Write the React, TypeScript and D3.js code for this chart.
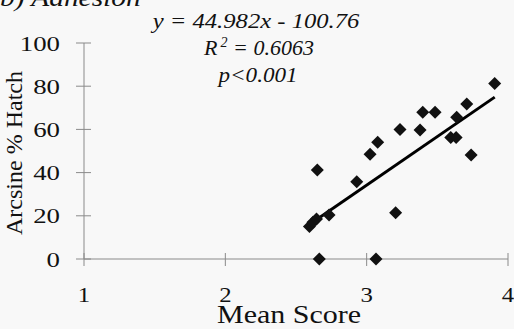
import React from "react";
import * as d3 from "d3";

const WIDTH = 514;
const HEIGHT = 329;

// Mean score (x) and arcsine-transformed % hatch (y)
const meanScore = [
  2.595, 2.62, 2.645, 2.651, 2.665, 2.734, 2.93, 3.024, 3.066, 3.078, 3.205,
  3.236, 3.378, 3.397, 3.484, 3.595, 3.633, 3.637, 3.708, 3.739, 3.906,
];
const arcsineHatch = [
  15.0, 17.0, 18.5, 41.2, 0, 20.4, 35.8, 48.5, 0, 54.0, 21.4, 60.0, 59.7,
  67.9, 67.9, 56.2, 56.2, 65.6, 71.8, 48.1, 81.3,
];

const xTicks = [1, 2, 3, 4];
const yTicks = [0, 20, 40, 60, 80, 100];

const slope = 44.982;
const intercept = -100.76;
const equationText = "y = 44.982x - 100.76";
const r2Value = "0.6063";
const pText = "p<0.001";

const serif = "'Liberation Serif', 'Times New Roman', serif";

// Text drawn with a horizontal stretch around its anchor point
function Wide({
  x,
  y,
  sx,
  anchor = "middle",
  size,
  italic = false,
  children,
}: {
  x: number;
  y: number;
  sx: number;
  anchor?: string;
  size: number;
  italic?: boolean;
  children: React.ReactNode;
}) {
  return (
    <text
      transform={`translate(${x},${y}) scale(${sx},1)`}
      textAnchor={anchor}
      fontSize={size}
      fontStyle={italic ? "italic" : "normal"}
      fill="#111"
    >
      {children}
    </text>
  );
}

export default function App() {
  const x = d3.scaleLinear().domain([1, 4]).range([84, 508]);
  const y = d3.scaleLinear().domain([0, 100]).range([259, 43]);

  const points = meanScore.map((m, i) => ({ m, h: arcsineHatch[i] }));
  const [xMin, xMax] = d3.extent(meanScore) as [number, number];
  const fitLine = d3
    .line<number>()
    .x((v) => x(v))
    .y((v) => y(slope * v + intercept))([xMin, xMax]);

  const r = 6.5;
  const axisColor = "#8a8a8a";

  return (
    <svg
      width={WIDTH}
      height={HEIGHT}
      style={{ position: "absolute", left: 0, top: 0 }}
      fontFamily={serif}
    >
      <rect width={WIDTH} height={HEIGHT} fill="#f8f8f8" />
      {/* Panel title */}
      <Wide x={0} y={6} sx={1.13} anchor="start" size={26} italic>
        b) Adhesion
      </Wide>

      {/* Y axis */}
      <line x1={x(1)} x2={x(1)} y1={y(100)} y2={y(0)} stroke={axisColor} strokeWidth={1} />
      {yTicks.map((t) => (
        <g key={`y${t}`}>
          <line x1={x(1) - 8} x2={x(1) + 7} y1={y(t)} y2={y(t)} stroke={axisColor} strokeWidth={1} />
          <Wide x={60} y={y(t) + 7.5} sx={1.22} anchor="end" size={22}>
            {t}
          </Wide>
        </g>
      ))}

      {/* X axis */}
      <line x1={x(1)} x2={x(4)} y1={y(0)} y2={y(0)} stroke={axisColor} strokeWidth={1} />
      {xTicks.map((t) => (
        <g key={`x${t}`}>
          <line x1={x(t)} x2={x(t)} y1={y(0) - 6} y2={y(0) + 7} stroke={axisColor} strokeWidth={1} />
          <Wide x={x(t)} y={302} sx={1.18} size={21}>
            {t}
          </Wide>
        </g>
      ))}

      {/* Axis titles */}
      <Wide x={289} y={323} sx={1.2} size={25}>
        Mean Score
      </Wide>
      <text
        transform={`translate(22,${y(50) + 2}) rotate(-90)`}
        textAnchor="middle"
        fontSize={24}
        fill="#111"
      >
        Arcsine % Hatch
      </text>

      {/* Regression statistics */}
      <Wide x={256} y={28} sx={1.12} size={22} italic>
        {equationText}
      </Wide>
      <Wide x={259} y={55} sx={1.0} size={22} italic>
        <tspan>R</tspan>
        <tspan dx={3} dy={-8} fontSize={14}>2</tspan>
        <tspan dy={8}> = {r2Value}</tspan>
      </Wide>
      <Wide x={258} y={82} sx={1.05} size={22} italic>
        {pText}
      </Wide>

      {/* Fitted line */}
      <path d={fitLine ?? ""} fill="none" stroke="#000" strokeWidth={3} />

      {/* Observations */}
      {points.map((p, i) => {
        const cx = x(p.m);
        const cy = y(p.h);
        return (
          <path
            key={i}
            d={`M${cx},${cy - r}L${cx + r},${cy}L${cx},${cy + r}L${cx - r},${cy}Z`}
            fill="#111"
          />
        );
      })}
    </svg>
  );
}
